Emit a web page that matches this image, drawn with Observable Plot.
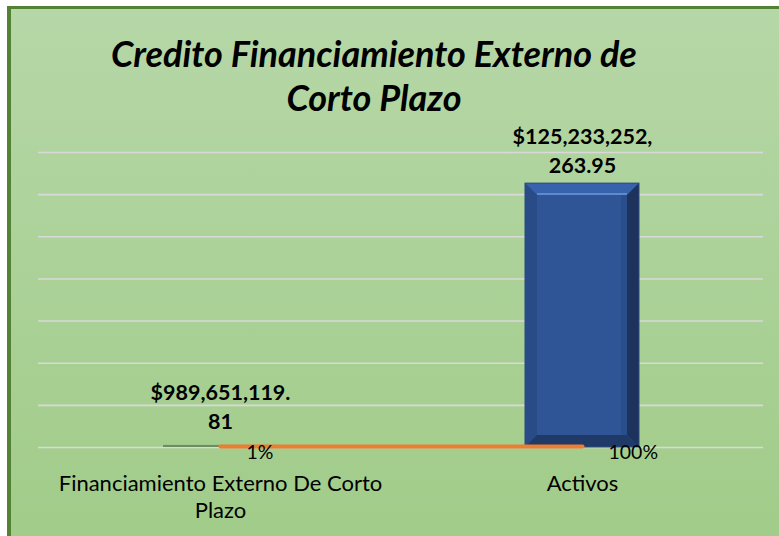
<!DOCTYPE html>
<html><head><meta charset="utf-8">
<script src="https://cdn.jsdelivr.net/npm/d3@7"></script>
<script src="https://cdn.jsdelivr.net/npm/@observablehq/plot@0.6"></script>
<style>
body{margin:0;background:#fff;}
#wrap{position:relative;width:779px;height:536px;overflow:hidden;background:#fff;}
#bg{position:absolute;left:7px;top:6px;right:0;bottom:0;background:linear-gradient(#b6d7a7,#a1cc89);border-left:4px solid #548235;border-top:3px solid #548235;}
#title{position:absolute;left:0;width:748px;top:31px;text-align:center;font-family:Lato;font-weight:bold;font-style:italic;font-size:36px;line-height:44px;color:#000;}
#chart{position:absolute;left:0;top:0;}
</style></head>
<body><div id="wrap"><div id="bg"></div><div id="title">Credito Financiamiento Externo de<br>Corto Plazo</div><div id="chart"></div></div>
<script>
const categories = ["Financiamiento Externo De Corto Plazo", "Activos"];
const tickLabels = ["Financiamiento Externo De Corto\nPlazo", "Activos"];
const values = [989651119.81, 125233252263.95];
const valueLabels = ["$989,651,119.\n81", "$125,233,252,\n263.95"];
const percents = [0.79, 100];
const percentLabels = ["1%", "100%"];
const yTicks = [0, 20e9, 40e9, 60e9, 80e9, 100e9, 120e9, 140e9];

const data = categories.map((c, i) => ({category: c, value: values[i], label: valueLabels[i], pct: percents[i], pctLabel: percentLabels[i]}));
const labelStyle = {x: "category", y: "value", text: "label", lineAnchor: "bottom", fontWeight: "bold", fontSize: 21.5, lineHeight: 1.35, fill: "#000"};

const plot = Plot.plot({
  width: 779, height: 536,
  marginLeft: 38, marginRight: 16, marginTop: 152, marginBottom: 89,
  style: {background: "transparent", fontFamily: "Lato", overflow: "visible", color: "#000"},
  x: {domain: categories, padding: 0, axis: null},
  y: {domain: [0, 140e9], axis: null},
  color: {domain: categories, range: ["#6e8c62", "#2f5597"]},
  marks: [
    Plot.ruleY(yTicks, {stroke: "#d9d9d9", strokeWidth: 1.6}),
    Plot.barY(data, {x: "category", y: "value", fill: "category", insetLeft: 124, insetRight: 124}),
    Plot.line(data, {x: "category", y: () => 0, stroke: "#ed7d31", strokeWidth: 4, dy: -1}),
    Plot.text(data, {...labelStyle, filter: (d, i) => i === 0, dy: -16}),
    Plot.text(data, {...labelStyle, filter: (d, i) => i === 1, dy: -11}),
    Plot.text(data, {x: "category", y: () => 0, text: "pctLabel", textAnchor: "start", dx: 26, dy: 5, fontSize: 19.5, fill: "#000"}),
    Plot.axisX({tickSize: 0, tickPadding: 24, fontSize: 22, lineHeight: 1.23, label: null, tickFormat: d => tickLabels[categories.indexOf(d)]})
  ]
});
document.getElementById("chart").appendChild(plot);

// bevel shading for tall bars, derived from the rendered bar geometry
const ns = "http://www.w3.org/2000/svg";
plot.querySelectorAll('g[aria-label="bar"] rect').forEach(r => {
  const x = +r.getAttribute("x"), y = +r.getAttribute("y"), w = +r.getAttribute("width"), h = +r.getAttribute("height");
  const b = 12;
  if (h < 3 * b) return;
  const g = r.parentNode;
  const poly = (pts, fill) => {
    const p = document.createElementNS(ns, "polygon");
    p.setAttribute("points", pts.map(q => q.join(",")).join(" "));
    p.setAttribute("fill", fill);
    g.appendChild(p);
  };
  poly([[x, y], [x + w, y], [x + w - b, y + b], [x + b, y + b]], "#3663ab");
  poly([[x, y], [x + b, y + b], [x + b, y + h - b], [x, y + h]], "#294b88");
  poly([[x + w, y], [x + w, y + h], [x + w - b, y + h - b], [x + w - b, y + b]], "#1d335c");
  poly([[x, y + h], [x + b, y + h - b], [x + w - b, y + h - b], [x + w, y + h]], "#203a68");
  const hl = document.createElementNS(ns, "line");
  hl.setAttribute("x1", x + b); hl.setAttribute("x2", x + w - b);
  hl.setAttribute("y1", y + b - 1); hl.setAttribute("y2", y + b - 1);
  hl.setAttribute("stroke", "#5f8bcc"); hl.setAttribute("stroke-width", 2);
  g.appendChild(hl);
  const sh = document.createElementNS(ns, "rect");
  sh.setAttribute("x", x + w - b - 6); sh.setAttribute("y", y + b);
  sh.setAttribute("width", 6); sh.setAttribute("height", h - 2 * b);
  sh.setAttribute("fill", "#284a84"); sh.setAttribute("opacity", 0.6);
  g.appendChild(sh);
  const o = document.createElementNS(ns, "rect");
  o.setAttribute("x", x); o.setAttribute("y", y); o.setAttribute("width", w); o.setAttribute("height", h);
  o.setAttribute("fill", "none"); o.setAttribute("stroke", "#2a4a80"); o.setAttribute("stroke-width", 1);
  g.appendChild(o);
});
</script>
</body></html>
